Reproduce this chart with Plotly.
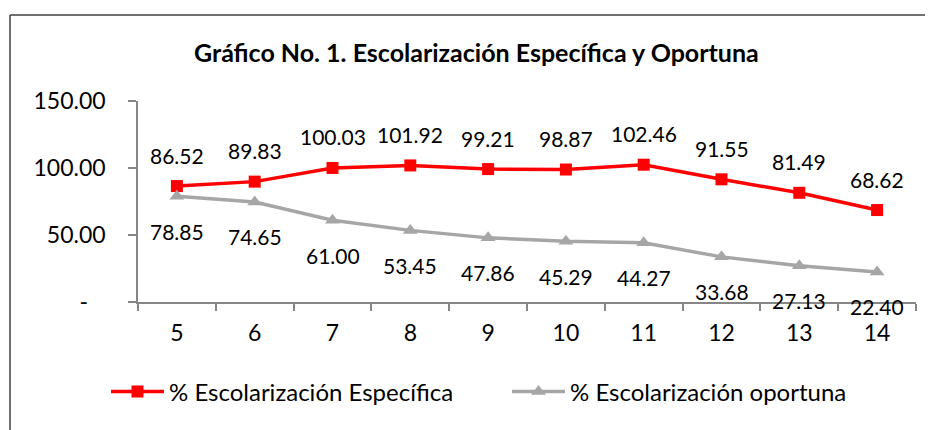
import plotly.graph_objects as go

categories = ["5", "6", "7", "8", "9", "10", "11", "12", "13", "14"]
especifica = [86.52, 89.83, 100.03, 101.92, 99.21, 98.87, 102.46, 91.55, 81.49, 68.62]
oportuna = [78.85, 74.65, 61.00, 53.45, 47.86, 45.29, 44.27, 33.68, 27.13, 22.40]
y_tickvals = [0, 50, 100, 150]
y_ticktext = ["-\u00a0\u00a0\u00a0", "50.00", "100.00", "150.00"]

FONT = "Lato"
RED = "#FF0000"
GRAY = "#A6A6A6"

OFF = 8  # page body margin
W, H = 933, 430
L, R, T, B = 138 - OFF, 933 - (916 - OFF), 101 - OFF, 430 - (302 - OFF)
pw, ph = W - L - R, H - T - B

def px_x(px):
    return (px - OFF - L) / pw

def px_y(py):
    return (H - B - (py - OFF)) / ph

fig = go.Figure()
fig.add_trace(go.Scatter(
    x=categories, y=especifica, mode="lines+markers",
    name="% Escolarización Específica",
    line=dict(color=RED, width=3.5),
    marker=dict(symbol="square", size=12, color=RED),
))
fig.add_trace(go.Scatter(
    x=categories, y=oportuna, mode="lines+markers",
    name="% Escolarización oportuna",
    line=dict(color=GRAY, width=3.5),
    marker=dict(symbol="triangle-up", size=13, color=GRAY),
))

annotations = []
for i, v in enumerate(especifica):
    annotations.append(dict(x=i, y=v, xref="x", yref="y", text=f"{v:.2f}",
                            showarrow=False, yshift=31,
                            font=dict(family=FONT, size=21, color="black")))
for i, v in enumerate(oportuna):
    annotations.append(dict(x=i, y=v, xref="x", yref="y", text=f"{v:.2f}",
                            showarrow=False, yshift=-35,
                            font=dict(family=FONT, size=21, color="black")))
annotations.append(dict(x=px_x(476), y=px_y(52), xref="paper", yref="paper",
                        text="<b>Gráfico No. 1. Escolarización Específica y Oportuna</b>",
                        showarrow=False, xanchor="center", yanchor="middle",
                        font=dict(family=FONT, size=25, color="black")))

shapes = [
    dict(type="line", xref="paper", yref="paper", x0=px_x(10), x1=px_x(950),
         y0=px_y(15), y1=px_y(15), line=dict(color="#404040", width=1.5)),
    dict(type="line", xref="paper", yref="paper", x0=px_x(10), x1=px_x(10),
         y0=px_y(15), y1=px_y(450), line=dict(color="#404040", width=1.5)),
]

fig.update_layout(
    width=W, height=H,
    margin=dict(l=L, r=R, t=T, b=B, autoexpand=False),
    paper_bgcolor="white", plot_bgcolor="white",
    font=dict(family=FONT, size=23, color="black"),
    showlegend=True,
    legend=dict(orientation="h", x=px_x(106), y=px_y(392), xanchor="left", yanchor="middle",
                font=dict(family=FONT, size=24, color="black"),
                entrywidth=333, entrywidthmode="pixels", itemwidth=53,
                bgcolor="rgba(0,0,0,0)"),
    annotations=annotations,
    shapes=shapes,
    xaxis=dict(type="category", range=[-0.5, 9.5], showgrid=False,
               showline=True, linecolor="#868686", linewidth=1.5,
               ticks="outside", tickson="boundaries", ticklen=7, tickcolor="#868686",
               tickwidth=1.5, tickfont=dict(family=FONT, size=23), ticklabelstandoff=10),
    yaxis=dict(range=[0, 150], tickvals=y_tickvals, ticktext=y_ticktext,
               showgrid=False, zeroline=False,
               showline=True, linecolor="#868686", linewidth=1.5,
               ticks="outside", ticklen=8, tickcolor="#868686", tickwidth=1.5,
               tickfont=dict(family=FONT, size=23), ticklabelstandoff=18),
)

fig.write_html("out.html")
